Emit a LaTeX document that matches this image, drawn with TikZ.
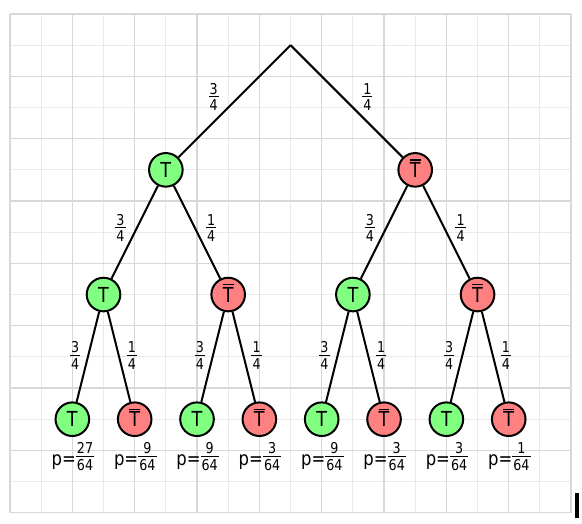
\documentclass[tikz,border=0pt]{standalone}
\usepackage{fontspec}
\setmainfont{DejaVu Sans}[FakeStretch=0.85]
\usetikzlibrary{calc}
\definecolor{gfill}{RGB}{128,255,128}
\definecolor{rfill}{RGB}{255,128,128}
\definecolor{gridminor}{RGB}{233,233,233}
\definecolor{gridmajor}{RGB}{216,216,216}
\newcommand\fracfont{\fontsize{11.2}{13}\selectfont}
\newcommand\myfr[2]{\ensuremath{\vcenter{\hbox{\fracfont\vbox{\offinterlineskip\halign{\hfil\kern0.8pt##\kern0.8pt\hfil\cr#1\cr\noalign{\kern1.4pt\hrule height 0.75pt\kern1.8pt}#2\cr}}}}}}
\newcommand\Tbar{\rlap{\raisebox{\dimexpr\fontcharht\font`T+1.3pt\relax}[0pt][0pt]{\rule{\fontcharwd\font`T}{1pt}}}T}
\tikzset{
  gridminorline/.style={draw=gridminor, line width=0.75pt},
  gridmajorline/.style={draw=gridmajor, line width=1.1pt},
  tnode/.style={circle, draw=black, line width=1.5pt, minimum size=25.2pt, inner sep=0pt, fill=gfill, font=\fontsize{15.5}{17}\selectfont},
  fnode/.style={tnode, fill=rfill},
  edge/.style={draw=black, line width=1.5pt},
  lab/.style={inner sep=0pt},
  plab/.style={inner sep=0pt, anchor=base, font=\fontsize{14.5}{16}\selectfont},
}
\begin{document}
\begin{tikzpicture}[x=23.3775pt, y=-23.3775pt]
\useasboundingbox (-0.3208,-0.4491) rectangle (18.351,16.330);
% grid
\foreach \i in {1,3,...,17} \draw[gridminorline] (\i,0) -- (\i,16);
\foreach \j in {1,3,...,15} \draw[gridminorline] (0,\j) -- (18,\j);
\foreach \i in {0,2,...,18} \draw[gridmajorline] (\i,0) -- (\i,16);
\foreach \j in {0,2,...,16} \draw[gridmajorline] (0,\j) -- (18,\j);
% nodes
\coordinate (r) at (9,1);
\node[tnode] (a) at (5,5) {T};
\node[fnode] (b) at (13,5) {\Tbar};
\node[tnode] (aa) at (3,9) {T};
\node[fnode] (ab) at (7,9) {\Tbar};
\node[tnode] (ba) at (11,9) {T};
\node[fnode] (bb) at (15,9) {\Tbar};
\node[tnode] (aaa) at (2,13) {T};
\node[fnode] (aab) at (4,13) {\Tbar};
\node[tnode] (aba) at (6,13) {T};
\node[fnode] (abb) at (8,13) {\Tbar};
\node[tnode] (baa) at (10,13) {T};
\node[fnode] (bab) at (12,13) {\Tbar};
\node[tnode] (bba) at (14,13) {T};
\node[fnode] (bbb) at (16,13) {\Tbar};
% edges
\draw[edge] (r) -- (a);
\draw[edge] (r) -- (b);
\draw[edge] (a) -- (aa);
\draw[edge] (a) -- (ab);
\draw[edge] (b) -- (ba);
\draw[edge] (b) -- (bb);
\draw[edge] (aa) -- (aaa);
\draw[edge] (aa) -- (aab);
\draw[edge] (ab) -- (aba);
\draw[edge] (ab) -- (abb);
\draw[edge] (ba) -- (baa);
\draw[edge] (ba) -- (bab);
\draw[edge] (bb) -- (bba);
\draw[edge] (bb) -- (bbb);
% edge labels
\node[lab] (l1) at ($(r)!.5!(a)+(-0.465,-0.337)$) {\myfr{3}{4}};
\node[lab] (l2) at ($(r)!.5!(b)+(0.465,-0.337)$) {\myfr{1}{4}};
\node[lab] (l3) at ($(a)!.5!(aa)+(-0.455,-0.144)$) {\myfr{3}{4}};
\node[lab] (l4) at ($(a)!.5!(ab)+(0.455,-0.144)$) {\myfr{1}{4}};
\node[lab] (l5) at ($(b)!.5!(ba)+(-0.455,-0.144)$) {\myfr{3}{4}};
\node[lab] (l6) at ($(b)!.5!(bb)+(0.455,-0.144)$) {\myfr{1}{4}};
\node[lab] (l7) at ($(aa)!.5!(aaa)+(-0.41,-0.04)$) {\myfr{3}{4}};
\node[lab] (l8) at ($(aa)!.5!(aab)+(0.41,-0.04)$) {\myfr{1}{4}};
\node[lab] (l9) at ($(ab)!.5!(aba)+(-0.41,-0.04)$) {\myfr{3}{4}};
\node[lab] (l10) at ($(ab)!.5!(abb)+(0.41,-0.04)$) {\myfr{1}{4}};
\node[lab] (l11) at ($(ba)!.5!(baa)+(-0.41,-0.04)$) {\myfr{3}{4}};
\node[lab] (l12) at ($(ba)!.5!(bab)+(0.41,-0.04)$) {\myfr{1}{4}};
\node[lab] (l13) at ($(bb)!.5!(bba)+(-0.41,-0.04)$) {\myfr{3}{4}};
\node[lab] (l14) at ($(bb)!.5!(bbb)+(0.41,-0.04)$) {\myfr{1}{4}};
% leaf probabilities
\node[plab] (p1) at ($(aaa)+(0.02,1.48)$) {p=\raisebox{3pt}{\myfr{27}{64}}};
\node[plab] (p2) at ($(aab)+(0.02,1.48)$) {p=\raisebox{3pt}{\myfr{9}{64}}};
\node[plab] (p3) at ($(aba)+(0.02,1.48)$) {p=\raisebox{3pt}{\myfr{9}{64}}};
\node[plab] (p4) at ($(abb)+(0.02,1.48)$) {p=\raisebox{3pt}{\myfr{3}{64}}};
\node[plab] (p5) at ($(baa)+(0.02,1.48)$) {p=\raisebox{3pt}{\myfr{9}{64}}};
\node[plab] (p6) at ($(bab)+(0.02,1.48)$) {p=\raisebox{3pt}{\myfr{3}{64}}};
\node[plab] (p7) at ($(bba)+(0.02,1.48)$) {p=\raisebox{3pt}{\myfr{3}{64}}};
\node[plab] (p8) at ($(bbb)+(0.02,1.48)$) {p=\raisebox{3pt}{\myfr{1}{64}}};
% cursor bar
\fill[black] (18.127,15.367) rectangle (18.255,16.17);
\end{tikzpicture}
\end{document}
